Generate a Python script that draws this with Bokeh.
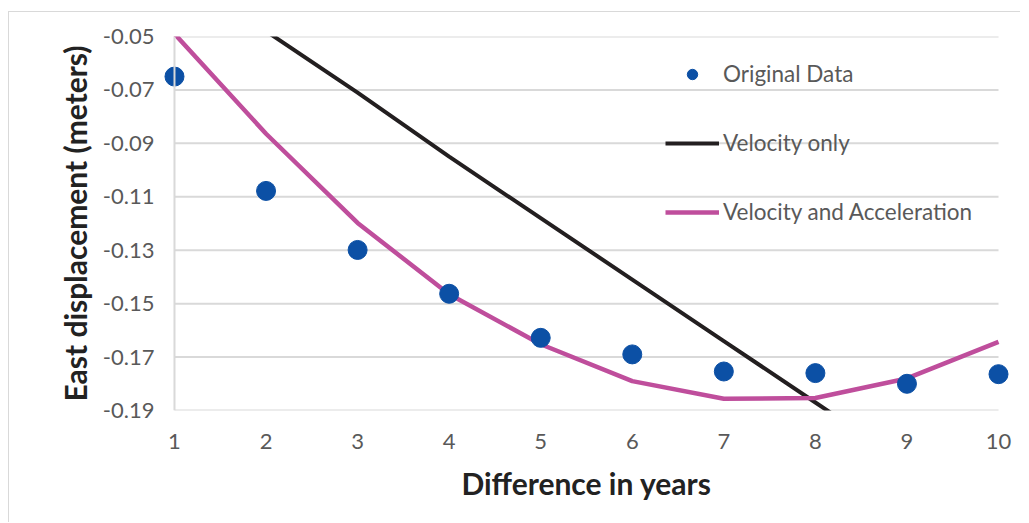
from bokeh.plotting import figure
from bokeh.models import Range1d, FixedTicker, Legend, LegendItem, Span
from bokeh.embed import file_html
from bokeh.resources import INLINE

years = [1, 2, 3, 4, 5, 6, 7, 8, 9, 10]
original = [-0.065, -0.1078, -0.1299, -0.1463, -0.1628, -0.169, -0.1754, -0.176, -0.180, -0.1764]
velocity_only = [-0.025, -0.048, -0.071, -0.095, -0.118, -0.141, -0.164, -0.187, -0.210, -0.233]
vel_acc = [-0.049, -0.0864, -0.1198, -0.1465, -0.1652, -0.179, -0.1856, -0.1853, -0.178, -0.1643]
y_ticks = [-0.19, -0.17, -0.15, -0.13, -0.11, -0.09, -0.07, -0.05]
y_tick_labels = ["-0.19", "-0.17", "-0.15", "-0.13", "-0.11", "-0.09", "-0.07", "-0.05"]
x_ticks = years

FONT = "Lato"
GRID = "#D9D9D9"
BLUE = "#0C50A5"

p = figure(width=1012, height=511, output_backend="svg", toolbar_location=None,
           x_range=Range1d(0.88, 10.12), y_range=Range1d(-0.19, -0.05),
           min_border_left=154, min_border_right=12, min_border_top=24, min_border_bottom=113)
p.styles = {"border-top": "1px solid #D9D9D9", "border-left": "1px solid #D9D9D9",
            "margin-top": "11px", "margin-left": "8px"}
p.outline_line_color = None
p.xgrid.visible = False
p.ygrid.visible = False

# gridlines from x=1 to x=10
p.segment(x0=[years[0]] * len(y_ticks), x1=[years[-1]] * len(y_ticks), y0=y_ticks, y1=y_ticks,
          line_color=GRID, line_width=2)
p.add_layout(Span(location=years[0], dimension="height", line_color=GRID, line_width=2))

r_vel = p.line(years, velocity_only, line_color="#231F20", line_width=4)
r_acc = p.line(years, vel_acc, line_color="#BF4E9C", line_width=4.5)
p.scatter(years, original, size=19, fill_color=BLUE, line_color=BLUE)
# legend proxy (not drawn in plot) for a smaller marker in the legend
r_pts_leg = p.scatter(x=[float("nan")], y=[float("nan")], size=13, fill_color=BLUE, line_color=BLUE)

for ax in (p.xaxis[0], p.yaxis[0]):
    ax.axis_line_color = None
    ax.major_tick_line_color = None
    ax.minor_tick_line_color = None
    ax.major_tick_out = 0
    ax.major_tick_in = 0
    ax.major_label_text_font = FONT
    ax.major_label_text_font_size = "22px"
    ax.major_label_text_color = "#595959"
    ax.axis_label_text_font = FONT
    ax.axis_label_text_font_style = "bold"
    ax.axis_label_text_font_size = "30px"
    ax.axis_label_text_color = "#222222"

p.xaxis[0].ticker = FixedTicker(ticks=x_ticks)
p.yaxis[0].ticker = FixedTicker(ticks=y_ticks)
p.yaxis[0].major_label_overrides = {t: l for t, l in zip(y_ticks, y_tick_labels)}
p.xaxis[0].axis_label = "Difference in years"
p.yaxis[0].axis_label = "East displacement (meters)"
p.xaxis[0].major_label_standoff = 23
p.xaxis[0].axis_label_standoff = 13
p.yaxis[0].major_label_standoff = 9
p.yaxis[0].axis_label_standoff = 7

legend = Legend(items=[
    LegendItem(label="Original Data", renderers=[r_pts_leg]),
    LegendItem(label="Velocity only", renderers=[r_vel]),
    LegendItem(label="Velocity and Acceleration", renderers=[r_acc]),
], location=(502, 185), padding=0, margin=0, spacing=42, glyph_width=54, glyph_height=26,
   label_height=26, label_standoff=4, border_line_alpha=0, background_fill_alpha=0,
   label_text_font=FONT, label_text_font_size="22.5px", label_text_color="#595959")
p.add_layout(legend)

open("out.html", "w").write(file_html(p, INLINE))
